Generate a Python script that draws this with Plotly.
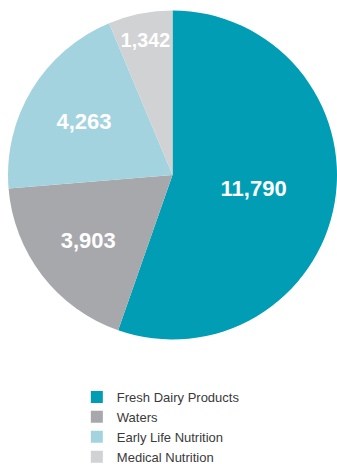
import plotly.graph_objects as go

categories = ["Fresh Dairy Products", "Waters", "Early Life Nutrition", "Medical Nutrition"]
values = [11790, 3903, 4263, 1342]
colors = ["#019db5", "#a7a8ac", "#a4d3e0", "#d1d2d4"]

W, H = 337, 464
cx, cy, r = 173, 175, 165

fig = go.Figure(go.Pie(
    labels=categories,
    values=values,
    sort=False,
    direction="clockwise",
    rotation=0,
    marker=dict(colors=colors, line=dict(width=0)),
    textinfo="value",
    texttemplate="%{value:,}",
    textposition="inside",
    insidetextorientation="horizontal",
    textfont=dict(family="Liberation Sans", size=22, color="white", weight="bold"),
    domain=dict(x=[(cx - r) / W, 1], y=[(H - (cy + r)) / H, (H - (cy - r)) / H]),
    hoverinfo="label+value",
))

fig.update_layout(
    width=W, height=H,
    margin=dict(l=0, r=0, t=0, b=0, autoexpand=False),
    paper_bgcolor="white",
    showlegend=True,
    legend=dict(
        x=0.228, y=(H - 382) / H, xanchor="left", yanchor="top",
        font=dict(family="Liberation Sans", size=13, color="#3a3a3a"),
        traceorder="normal",
        itemclick=False,
    ),
)

fig.write_html("out.html")
